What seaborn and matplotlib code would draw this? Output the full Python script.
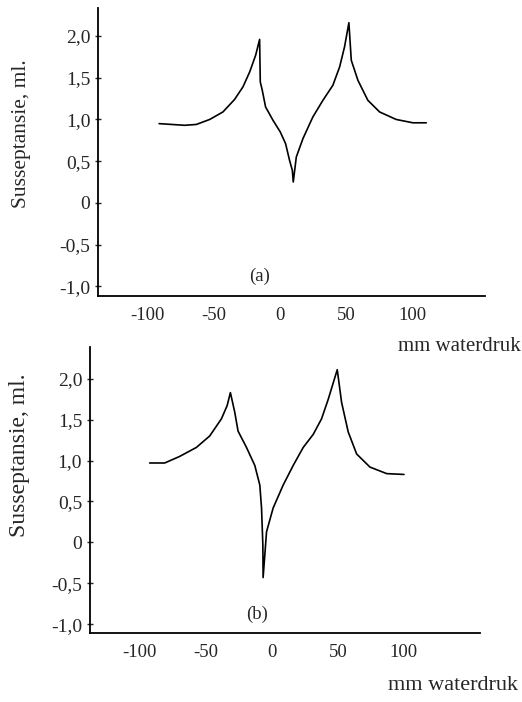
import matplotlib
matplotlib.use("Agg")
import matplotlib.pyplot as plt
import seaborn as sns
import pandas as pd

# curve (a)
x_a = [-91, -71.7, -62.9, -52.8, -42.8, -34, -27.7, -22.6, -18.1, -15.1, -14.6, -13.1, -10.6,
       -5, 0.5, 4.5, 7.5, 9.6, 10.3, 12.6, 17.6, 25.1, 32.7, 40.2, 45.3, 49, 52.3, 54.1,
       59.1, 66.6, 75.5, 88, 100.6, 110.7]
y_a = [0.95, 0.93, 0.94, 1.0, 1.09, 1.24, 1.39, 1.57, 1.77, 1.96, 1.45, 1.35, 1.15,
       0.99, 0.85, 0.71, 0.51, 0.39, 0.25, 0.55, 0.77, 1.03, 1.23, 1.41, 1.63, 1.87, 2.16, 1.71,
       1.47, 1.23, 1.09, 1.0, 0.96, 0.96]

# curve (b)
x_b = [-92.6, -81.2, -69.9, -57.2, -47.1, -38.2, -33.9, -31.4, -28.1, -25.6, -19.2, -12.9,
       -9.1, -7.8, -6.8, -6.6, -4, 1, 8.6, 16.2, 23.8, 31.4, 37.7, 42.8, 49.6, 52.9, 57.9,
       64.3, 74.4, 87.1, 100.2]
y_b = [0.97, 0.97, 1.05, 1.16, 1.30, 1.51, 1.67, 1.83, 1.59, 1.36, 1.16, 0.94,
       0.70, 0.42, -0.03, -0.43, 0.13, 0.42, 0.70, 0.94, 1.16, 1.32, 1.51, 1.75, 2.11, 1.71, 1.35,
       1.08, 0.92, 0.84, 0.83]

yticks = [-1.0, -0.5, 0, 0.5, 1.0, 1.5, 2.0]
ytick_labels = ["-1,0", "-0,5", "0", "0,5", "1,0", "1,5", "2,0"]
xticks = [-100, -50, 0, 50, 100]
xtick_labels = ["-100", "-50", "0", "50", "100"]

sns.set_style("white")
plt.rcParams['font.family'] = ['Liberation Serif', 'DejaVu Serif']

fig = plt.figure(figsize=(5.22, 7.02), dpi=100)
ax_a = fig.add_axes([0.188, 0.578, 0.741, 0.411])
ax_b = fig.add_axes([0.172, 0.098, 0.748, 0.408])

panels = [
    (ax_a, x_a, y_a, "(a)", (-15, -0.88), (-137, 155), (-1.12, 2.34)),
    (ax_b, x_b, y_b, "(b)", (-11, -0.88), (-138, 158), (-1.11, 2.39)),
]

for ax, xs, ys, tag, tagpos, xl, yl in panels:
    df = pd.DataFrame({"x": xs, "y": ys})
    sns.lineplot(data=df, x="x", y="y", ax=ax, color="black", linewidth=1.2,
                 estimator=None, sort=False)
    ax.set_xlim(*xl)
    ax.set_ylim(*yl)
    ax.set_yticks(yticks)
    ax.set_yticklabels(ytick_labels)
    ax.set_xticks(xticks)
    ax.set_xticklabels(xtick_labels)
    ax.tick_params(axis="y", left=True, direction="inout", length=5, width=1,
                   labelsize=14, pad=3)
    ax.tick_params(axis="x", bottom=False, length=0, labelsize=13.5, pad=8)
    ax.set_xlabel("")
    ax.set_ylabel("")
    for side in ["top", "right"]:
        ax.spines[side].set_visible(False)
    for side in ["left", "bottom"]:
        ax.spines[side].set_color("black")
        ax.spines[side].set_linewidth(1.3)
    ax.text(tagpos[0], tagpos[1], tag, ha="center", va="center", fontsize=13.5)

fig.text(0.042, 0.809, "Susseptansie, ml.", rotation=90, ha="center", va="center", fontsize=15.5)
fig.text(0.038, 0.352, "Susseptansie, ml.", rotation=90, ha="center", va="center", fontsize=17)
fig.text(0.762, 0.507, "mm waterdruk", ha="left", va="center", fontsize=15)
fig.text(0.743, 0.023, "mm waterdruk", ha="left", va="center", fontsize=16)

fig.savefig("out.png", dpi=100)
